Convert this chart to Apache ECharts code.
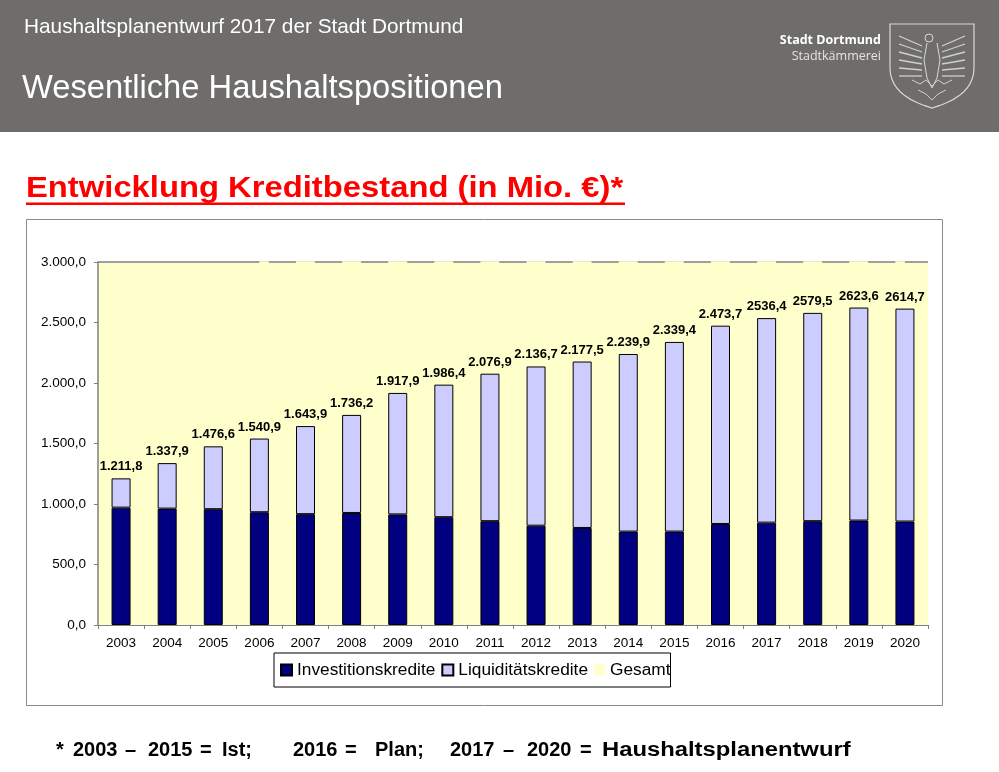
<!DOCTYPE html>
<html>
<head>
<meta charset="utf-8">
<script src="https://cdn.jsdelivr.net/npm/echarts@6/dist/echarts.min.js"></script>
<style>
html,body{margin:0;padding:0;background:#fff;}
#chart{width:999px;height:772px;}
</style>
</head>
<body>
<div id="chart"></div>
<script>
// ---- data ----
var years = ['2003','2004','2005','2006','2007','2008','2009','2010','2011','2012','2013','2014','2015','2016','2017','2018','2019','2020'];
var investitionskredite = [970, 962, 957, 932, 916, 926, 914, 891, 858, 821, 802, 772, 772, 835, 846, 858, 863, 855];
var liquiditaetskredite = [241.8, 375.9, 519.6, 608.9, 727.9, 810.2, 1003.9, 1095.4, 1218.9, 1315.7, 1375.5, 1467.9, 1567.4, 1638.7, 1690.4, 1721.5, 1760.6, 1759.7];
var gesamt = [1211.8, 1337.9, 1476.6, 1540.9, 1643.9, 1736.2, 1917.9, 1986.4, 2076.9, 2136.7, 2177.5, 2239.9, 2339.4, 2473.7, 2536.4, 2579.5, 2623.6, 2614.7];
var gesamtLabels = ['1.211,8','1.337,9','1.476,6','1.540,9','1.643,9','1.736,2','1.917,9','1.986,4','2.076,9','2.136,7','2.177,5','2.239,9','2.339,4','2.473,7','2536,4','2579,5','2623,6','2614,7'];
var yTicks = [0, 500, 1000, 1500, 2000, 2500, 3000];
var yTickLabels = ['0,0','500,0','1.000,0','1.500,0','2.000,0','2.500,0','3.000,0'];
var seriesNames = ['Investitionskredite', 'Liquiditätskredite', 'Gesamt'];

var FONT = '"Liberation Sans", Arial, sans-serif';
var chart = echarts.init(document.getElementById('chart'), null, {renderer: 'canvas'});

function txt(x, y, text, size, weight, color, extra) {
  var o = {
    type: 'text', x: x, y: y, silent: true,
    style: {text: text, font: (weight || 'normal') + ' ' + size + 'px ' + FONT, fill: color || '#000', textVerticalAlign: 'middle'}
  };
  if (extra) { for (var k in extra) { o[k] = extra[k]; } }
  return o;
}

// shield outline points (decoration)
var shieldPts = [[890,24],[974,24],[974,68]];
for (var s = 1; s <= 10; s++) {
  var t = s / 10, u = 1 - t;
  shieldPts.push([u*u*974 + 2*u*t*974 + t*t*932, u*u*68 + 2*u*t*96 + t*t*108]);
}
for (var s2 = 1; s2 <= 10; s2++) {
  var t2 = s2 / 10, u2 = 1 - t2;
  shieldPts.push([u2*u2*932 + 2*u2*t2*890 + t2*t2*890, u2*u2*108 + 2*u2*t2*96 + t2*t2*68]);
}

var footTokens = [['*',56],['2003',73],['–',125],['2015',148],['=',200],['Ist;',222],['2016',293],['=',345],['Plan;',375],['2017',450],['–',503],['2020',527],['=',580]];
var graphics = [
  {type: 'rect', shape: {x: 0, y: 0, width: 999, height: 132}, style: {fill: '#6e6d6b'}, silent: true, z: -10},
  txt(24, 27, 'Haushaltsplanentwurf 2017 der Stadt Dortmund', 20.8, 'normal', '#ffffff'),
  txt(22, 89, 'Wesentliche Haushaltspositionen', 32.7, 'normal', '#ffffff'),
  {type: 'text', x: 881, y: 40, silent: true, style: {text: 'Stadt Dortmund', font: 'bold 12.5px "Open Sans", "Noto Sans", sans-serif', fill: '#ffffff', textAlign: 'right', textVerticalAlign: 'middle'}},
  {type: 'text', x: 881, y: 56, silent: true, style: {text: 'Stadtkämmerei', font: 'normal 12.5px "Open Sans", "Noto Sans", sans-serif', fill: '#e4e4e4', textAlign: 'right', textVerticalAlign: 'middle'}},
  {type: 'polygon', silent: true, shape: {points: shieldPts}, style: {fill: 'none', stroke: '#d8d8d8', lineWidth: 1.2}},
  {type: 'circle', silent: true, shape: {cx: 929, cy: 38, r: 4}, style: {fill: 'none', stroke: '#d8d8d8', lineWidth: 1}},
  {type: 'polyline', silent: true, shape: {points: [[927,43],[924,60],[927,78],[932,88],[937,78],[940,60],[937,43]]}, style: {fill: 'none', stroke: '#d8d8d8', lineWidth: 1}}
];
for (var i = 0; i < 6; i++) {
  graphics.push({type: 'line', silent: true, shape: {x1: 922, y1: 46 + i * 6, x2: 899, y2: 36 + i * 8}, style: {stroke: '#d0d0d0', lineWidth: 1.3}});
  graphics.push({type: 'line', silent: true, shape: {x1: 942, y1: 46 + i * 6, x2: 965, y2: 36 + i * 8}, style: {stroke: '#d0d0d0', lineWidth: 1.3}});
}
graphics.push({type: 'polyline', silent: true, shape: {points: [[912,80],[920,84],[926,80],[932,86],[938,80],[944,84],[952,80]]}, style: {fill: 'none', stroke: '#d0d0d0', lineWidth: 1}});
graphics.push({type: 'polyline', silent: true, shape: {points: [[918,90],[926,94],[932,100],[938,94],[946,90]]}, style: {fill: 'none', stroke: '#d0d0d0', lineWidth: 1}});
// title
graphics.push(txt(26, 189, 'Entwicklung Kreditbestand (in Mio. €)*', 29, 'bold', '#ff0000', {scaleX: 1.13, originX: 0, originY: 0}));
graphics.push({type: 'rect', silent: true, shape: {x: 26, y: 202.5, width: 599, height: 2.6}, style: {fill: '#ff0000'}});
// chart frame
graphics.push({type: 'rect', silent: true, shape: {x: 26.5, y: 219.5, width: 916, height: 486}, style: {fill: 'none', stroke: '#8a8a8a', lineWidth: 1}, z: -5});
// footnote
footTokens.forEach(function (t) { graphics.push(txt(t[1], 750, t[0], 20, 'bold', '#000')); });
graphics.push(txt(602, 750, 'Haushaltsplanentwurf', 20, 'bold', '#000', {scaleX: 1.19, originX: 0, originY: 0}));

var option = {
  animation: false,
  backgroundColor: '#ffffff',
  textStyle: {fontFamily: FONT},
  tooltip: {show: false},
  graphic: graphics,
  grid: {left: 98, right: 71, top: 262, bottom: 147, show: true, backgroundColor: '#ffffcc', borderWidth: 0, containLabel: false},
  legend: {
    left: 274, top: 653, orient: 'horizontal', icon: 'rect',
    itemWidth: 11, itemHeight: 11, itemGap: 6,
    padding: [8, 0, 8, 6], borderColor: '#000', borderWidth: 1, backgroundColor: '#ffffff',
    selectedMode: false,
    textStyle: {fontSize: 17.3, lineHeight: 18, color: '#000', fontFamily: FONT},
    data: [
      {name: seriesNames[0]},
      {name: seriesNames[1]},
      {name: seriesNames[2], itemStyle: {color: '#ffffcc', borderWidth: 0}}
    ]
  },
  xAxis: {
    type: 'category', data: years,
    axisLine: {show: true, lineStyle: {color: '#808080', width: 1}},
    axisTick: {show: true, length: 4, lineStyle: {color: '#808080'}},
    axisLabel: {fontSize: 13.5, color: '#000', margin: 11, fontFamily: FONT},
    splitLine: {show: false}
  },
  yAxis: {
    type: 'value', min: 0, max: 3000, interval: 500,
    axisLine: {show: true, lineStyle: {color: '#808080', width: 1.5}},
    axisTick: {show: true, length: 4, lineStyle: {color: '#808080'}},
    axisLabel: {fontSize: 13.5, color: '#000', margin: 12, fontFamily: FONT,
      formatter: function (v) { var idx = yTicks.indexOf(v); return idx >= 0 ? yTickLabels[idx] : ''; }},
    splitLine: {show: false}
  },
  series: [
    {
      name: seriesNames[0], type: 'bar', stack: 'k', barWidth: 19, data: investitionskredite,
      itemStyle: {color: '#000080', borderColor: '#000', borderWidth: 1},
      markLine: {
        silent: true, symbol: 'none', label: {show: false},
        lineStyle: {color: '#808080', width: 1.5, type: 'solid'},
        data: [
          {yAxis: 3000},
          [
            {xAxis: 3, yAxis: 3000, lineStyle: {color: '#ffffcc', width: 2.5, type: [19, 27.1], dashOffset: 9.5}},
            {xAxis: 17, yAxis: 3000}
          ]
        ]
      }
    },
    {
      name: seriesNames[1], type: 'bar', stack: 'k', barWidth: 19, data: liquiditaetskredite,
      itemStyle: {color: '#ccccff', borderColor: '#000', borderWidth: 1}
    },
    {
      name: seriesNames[2], type: 'line', data: gesamt,
      symbol: 'rect', symbolSize: 0.1, showSymbol: true,
      lineStyle: {width: 0, opacity: 0},
      itemStyle: {color: '#ffffcc', borderWidth: 0},
      label: {
        show: true, position: 'top', distance: 5,
        fontSize: 13, fontWeight: 'bold', color: '#000', fontFamily: FONT,
        formatter: function (p) { return gesamtLabels[p.dataIndex]; }
      },
      z: 5
    }
  ]
};
chart.setOption(option);
</script>
</body>
</html>
